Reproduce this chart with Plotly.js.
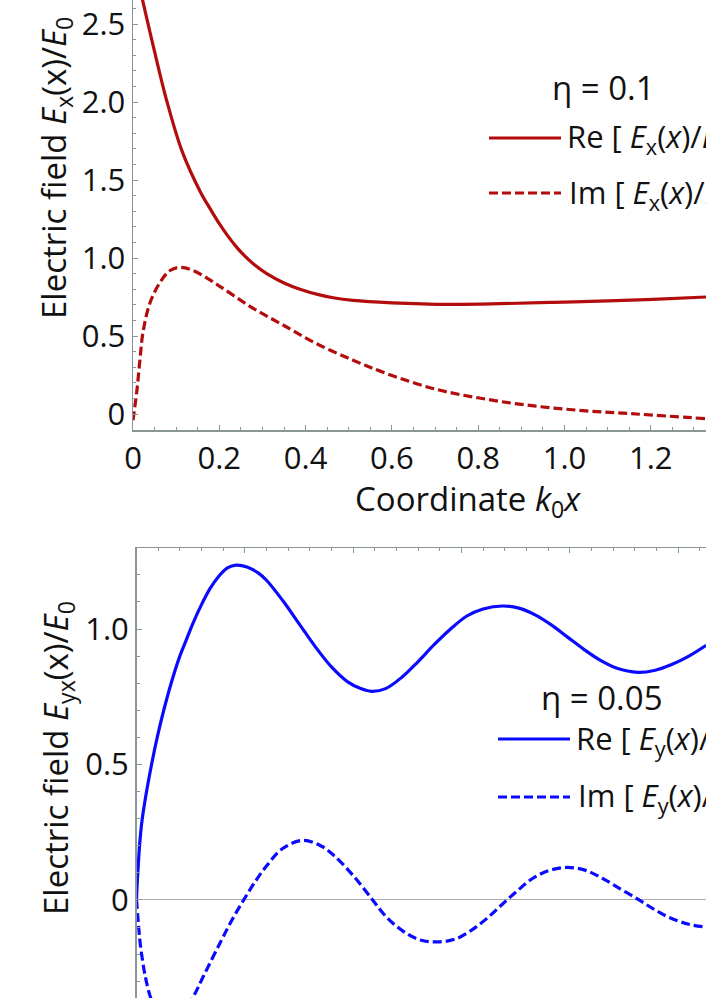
<!DOCTYPE html>
<html>
<head>
<meta charset="utf-8">
<script src="https://cdn.plot.ly/plotly-3.0.1.min.js"></script>
<style>
  html, body { margin: 0; padding: 0; background: #fff; overflow: hidden; }
  #fieldPlot { width: 706px; height: 998px; }
</style>
</head>
<body>
<div id="fieldPlot"></div>
<script>
// top panel: E_x, eta = 0.1
var exReX = [0.02, 0.046, 0.078, 0.113, 0.155, 0.18, 0.2, 0.22, 0.24, 0.26, 0.28, 0.31, 0.35, 0.387, 0.43, 0.464, 0.51, 0.6, 0.735, 0.85, 0.973, 1.1, 1.205, 1.328];
var exReY = [2.68, 2.37, 2.01, 1.69, 1.43, 1.31, 1.22, 1.14, 1.07, 1.01, 0.96, 0.90, 0.84, 0.80, 0.765, 0.745, 0.728, 0.713, 0.703, 0.707, 0.716, 0.725, 0.735, 0.75];
var exImX = [0, 0.009, 0.016, 0.023, 0.039, 0.063, 0.086, 0.109, 0.139, 0.195, 0.271, 0.348, 0.426, 0.51, 0.587, 0.70, 0.818, 0.934, 1.05, 1.166, 1.328];
var exImY = [-0.04, 0.15, 0.345, 0.52, 0.71, 0.845, 0.92, 0.94, 0.92, 0.83, 0.69, 0.57, 0.45, 0.345, 0.26, 0.16, 0.095, 0.05, 0.02, 0.0, -0.03];

// bottom panel: E_y, eta = 0.05
var eyReX = [0, 0.005, 0.015, 0.03, 0.05, 0.08, 0.12, 0.18, 0.245, 0.32, 0.40, 0.46, 0.52, 0.60, 0.68, 0.76, 0.84, 0.92, 1.02, 1.12, 1.2,
             1.35, 1.5, 1.65, 1.8, 1.95, 2.07, 2.17, 2.3, 2.45, 2.6, 2.75, 2.9, 3.05, 3.2, 3.38, 3.53, 3.68, 3.83, 3.98, 4.13, 4.28, 4.43, 4.63, 4.78, 4.93, 5.1, 5.26];
var eyReY = [0, 0.05, 0.12, 0.21, 0.29, 0.37, 0.46, 0.58, 0.69, 0.80, 0.90, 0.96, 1.02, 1.09, 1.15, 1.195, 1.226, 1.236, 1.229, 1.208, 1.18,
             1.105, 1.02, 0.935, 0.86, 0.805, 0.78, 0.77, 0.78, 0.822, 0.88, 0.943, 1.0, 1.048, 1.074, 1.085, 1.077, 1.052, 1.015, 0.97, 0.925, 0.885, 0.856, 0.84, 0.847, 0.867, 0.9, 0.94];
var eyImX = [0, 0.02, 0.037, 0.08, 0.13, 0.2, 0.3, 0.4, 0.52, 0.62, 0.77, 0.88, 0.99, 1.1, 1.2, 1.35, 1.54, 1.7, 1.82, 2.0, 2.18,
             2.3, 2.46, 2.62, 2.78, 2.94, 3.08, 3.23, 3.38, 3.52, 3.66, 3.82, 3.98, 4.14, 4.3, 4.47, 4.64, 4.78, 4.92, 5.1, 5.26];
var eyImY = [0, -0.1, -0.17, -0.28, -0.36, -0.42, -0.45, -0.43, -0.36, -0.28, -0.16, -0.075, 0, 0.07, 0.125, 0.19, 0.22, 0.2, 0.165, 0.09, 0.0,
             -0.06, -0.115, -0.148, -0.155, -0.145, -0.115, -0.07, -0.015, 0.035, 0.08, 0.11, 0.12, 0.11, 0.08, 0.04, 0.0, -0.035, -0.065, -0.09, -0.1];

// tick labels
var topXTicks = [0, 0.2, 0.4, 0.6, 0.8, 1.0, 1.2];
var topXLabels = ['0', '0.2', '0.4', '0.6', '0.8', '1.0', '1.2'];
var topYTicks = [0, 0.5, 1.0, 1.5, 2.0, 2.5];
var topYLabels = ['0', '0.5', '1.0', '1.5', '2.0', '2.5'];
var botYTicks = [0, 0.5, 1.0];
var botYLabels = ['0', '0.5', '1.0'];

var W = 706, H = 998;
var red = '#b30c0c';
var blue = '#0a0aff';
var axisGray = '#8a9595';
var fontFam = '"Open Sans", "Noto Sans", sans-serif';

// pixel -> paper helpers (margins are zero)
function px(x) { return x / W; }
function py(y) { return (H - y) / H; }

var curve = { shape: 'spline', smoothing: 1, width: 3.2 };
var data = [
  { x: exReX, y: exReY, xaxis: 'x', yaxis: 'y', type: 'scatter', mode: 'lines',
    line: Object.assign({ color: red }, curve) },
  { x: exImX, y: exImY, xaxis: 'x', yaxis: 'y', type: 'scatter', mode: 'lines',
    line: Object.assign({ color: red, dash: '9px,4px' }, curve) },
  { x: eyReX, y: eyReY, xaxis: 'x2', yaxis: 'y2', type: 'scatter', mode: 'lines',
    line: Object.assign({ color: blue }, curve) },
  { x: eyImX, y: eyImY, xaxis: 'x2', yaxis: 'y2', type: 'scatter', mode: 'lines',
    line: Object.assign({ color: blue, dash: '9px,4px' }, curve) }
];

var tickFont = { family: fontFam, size: 31, color: '#111' };
var minorTicks = function (dt) {
  return { tickmode: 'linear', tick0: 0, dtick: dt, ticks: 'inside', ticklen: 3, tickcolor: axisGray, tickwidth: 1, showgrid: false };
};

var layout = {
  width: W,
  height: H,
  margin: { l: 0, r: 0, t: 0, b: 0, pad: 0 },
  paper_bgcolor: '#fff',
  plot_bgcolor: '#fff',
  showlegend: false,
  font: { family: fontFam, color: '#111' },
  xaxis: {
    domain: [px(133), 1], anchor: 'y', range: [0, 1.328],
    showline: true, linecolor: axisGray, linewidth: 1.5,
    ticks: 'inside', ticklen: 5, tickcolor: axisGray, tickwidth: 1,
    tickmode: 'array', tickvals: topXTicks, ticktext: topXLabels,
    tickfont: tickFont, showgrid: false, zeroline: false,
    minor: minorTicks(0.05)
  },
  yaxis: {
    domain: [py(430), 1], anchor: 'x', range: [-0.1026, 2.654],
    showline: true, linecolor: axisGray, linewidth: 1.5,
    ticks: 'inside', ticklen: 5, tickcolor: axisGray, tickwidth: 1,
    tickmode: 'array', tickvals: topYTicks, ticktext: topYLabels,
    tickfont: tickFont, showgrid: false, zeroline: false,
    minor: minorTicks(0.1)
  },
  xaxis2: {
    domain: [px(136.5), 1], anchor: 'y2', side: 'top', range: [0, 5.258],
    showline: true, linecolor: axisGray, linewidth: 1.5,
    ticks: 'inside', ticklen: 5, tickcolor: axisGray, tickwidth: 1,
    tick0: 0, dtick: 1, showticklabels: false, showgrid: false, zeroline: false,
    minor: minorTicks(0.2)
  },
  yaxis2: {
    domain: [0, py(548)], anchor: 'x2', range: [-0.362, 1.299],
    showline: true, linecolor: axisGray, linewidth: 1.5,
    ticks: 'inside', ticklen: 5, tickcolor: axisGray, tickwidth: 1,
    tickmode: 'array', tickvals: botYTicks, ticktext: botYLabels,
    tickfont: tickFont, showgrid: false,
    zeroline: true, zerolinecolor: '#a8adad', zerolinewidth: 1,
    minor: minorTicks(0.1)
  },
  annotations: [
    // axis titles
    { text: 'Electric field <i>E</i><sub>x</sub>(x)/<i>E</i><sub>0</sub>', textangle: -90,
      xref: 'paper', yref: 'paper', x: px(56), y: py(168), xanchor: 'center', yanchor: 'middle',
      showarrow: false, font: { size: 33 } },
    { text: 'Coordinate <i>k</i><sub>0</sub><i>x</i>',
      xref: 'paper', yref: 'paper', x: px(468), y: py(500), xanchor: 'center', yanchor: 'middle',
      showarrow: false, font: { size: 33 } },
    { text: 'Electric field <i>E</i><sub>yx</sub>(x)/<i>E</i><sub>0</sub>', textangle: -90,
      xref: 'paper', yref: 'paper', x: px(57), y: py(758), xanchor: 'center', yanchor: 'middle',
      showarrow: false, font: { size: 33 } },
    // top key
    { text: '\u03b7 = 0.1', xref: 'paper', yref: 'paper', x: px(603), y: py(87),
      xanchor: 'center', yanchor: 'middle', showarrow: false, font: { size: 33 } },
    { text: 'Re [ <i>E</i><sub>x</sub>(<i>x</i>)/<i>E</i><sub>0</sub> ]', xref: 'paper', yref: 'paper',
      x: px(565), y: py(138), xanchor: 'left', yanchor: 'middle', showarrow: false, font: { size: 31 } },
    { text: 'Im [ <i>E</i><sub>x</sub>(<i>x</i>)/<i>E</i><sub>0</sub> ]', xref: 'paper', yref: 'paper',
      x: px(567), y: py(194), xanchor: 'left', yanchor: 'middle', showarrow: false, font: { size: 31 } },
    // bottom key
    { text: '\u03b7 = 0.05', xref: 'paper', yref: 'paper', x: px(602), y: py(698),
      xanchor: 'center', yanchor: 'middle', showarrow: false, font: { size: 33 } },
    { text: 'Re [ <i>E</i><sub>y</sub>(<i>x</i>)/<i>E</i><sub>0</sub> ]', xref: 'paper', yref: 'paper',
      x: px(574), y: py(740), xanchor: 'left', yanchor: 'middle', showarrow: false, font: { size: 31 } },
    { text: 'Im [ <i>E</i><sub>y</sub>(<i>x</i>)/<i>E</i><sub>0</sub> ]', xref: 'paper', yref: 'paper',
      x: px(576), y: py(797), xanchor: 'left', yanchor: 'middle', showarrow: false, font: { size: 31 } }
  ],
  // key line samples
  shapes: [
    { type: 'line', xref: 'paper', yref: 'paper', x0: px(489), x1: px(561), y0: py(138), y1: py(138),
      line: { color: red, width: 3.2 } },
    { type: 'line', xref: 'paper', yref: 'paper', x0: px(489), x1: px(561), y0: py(193), y1: py(193),
      line: { color: red, width: 3.2, dash: '9px,4px' } },
    { type: 'line', xref: 'paper', yref: 'paper', x0: px(498), x1: px(570), y0: py(739), y1: py(739),
      line: { color: blue, width: 3.2 } },
    { type: 'line', xref: 'paper', yref: 'paper', x0: px(498), x1: px(570), y0: py(797), y1: py(797),
      line: { color: blue, width: 3.2, dash: '9px,4px' } }
  ]
};

Plotly.newPlot('fieldPlot', data, layout, { staticPlot: true, displayModeBar: false });
</script>
</body>
</html>
